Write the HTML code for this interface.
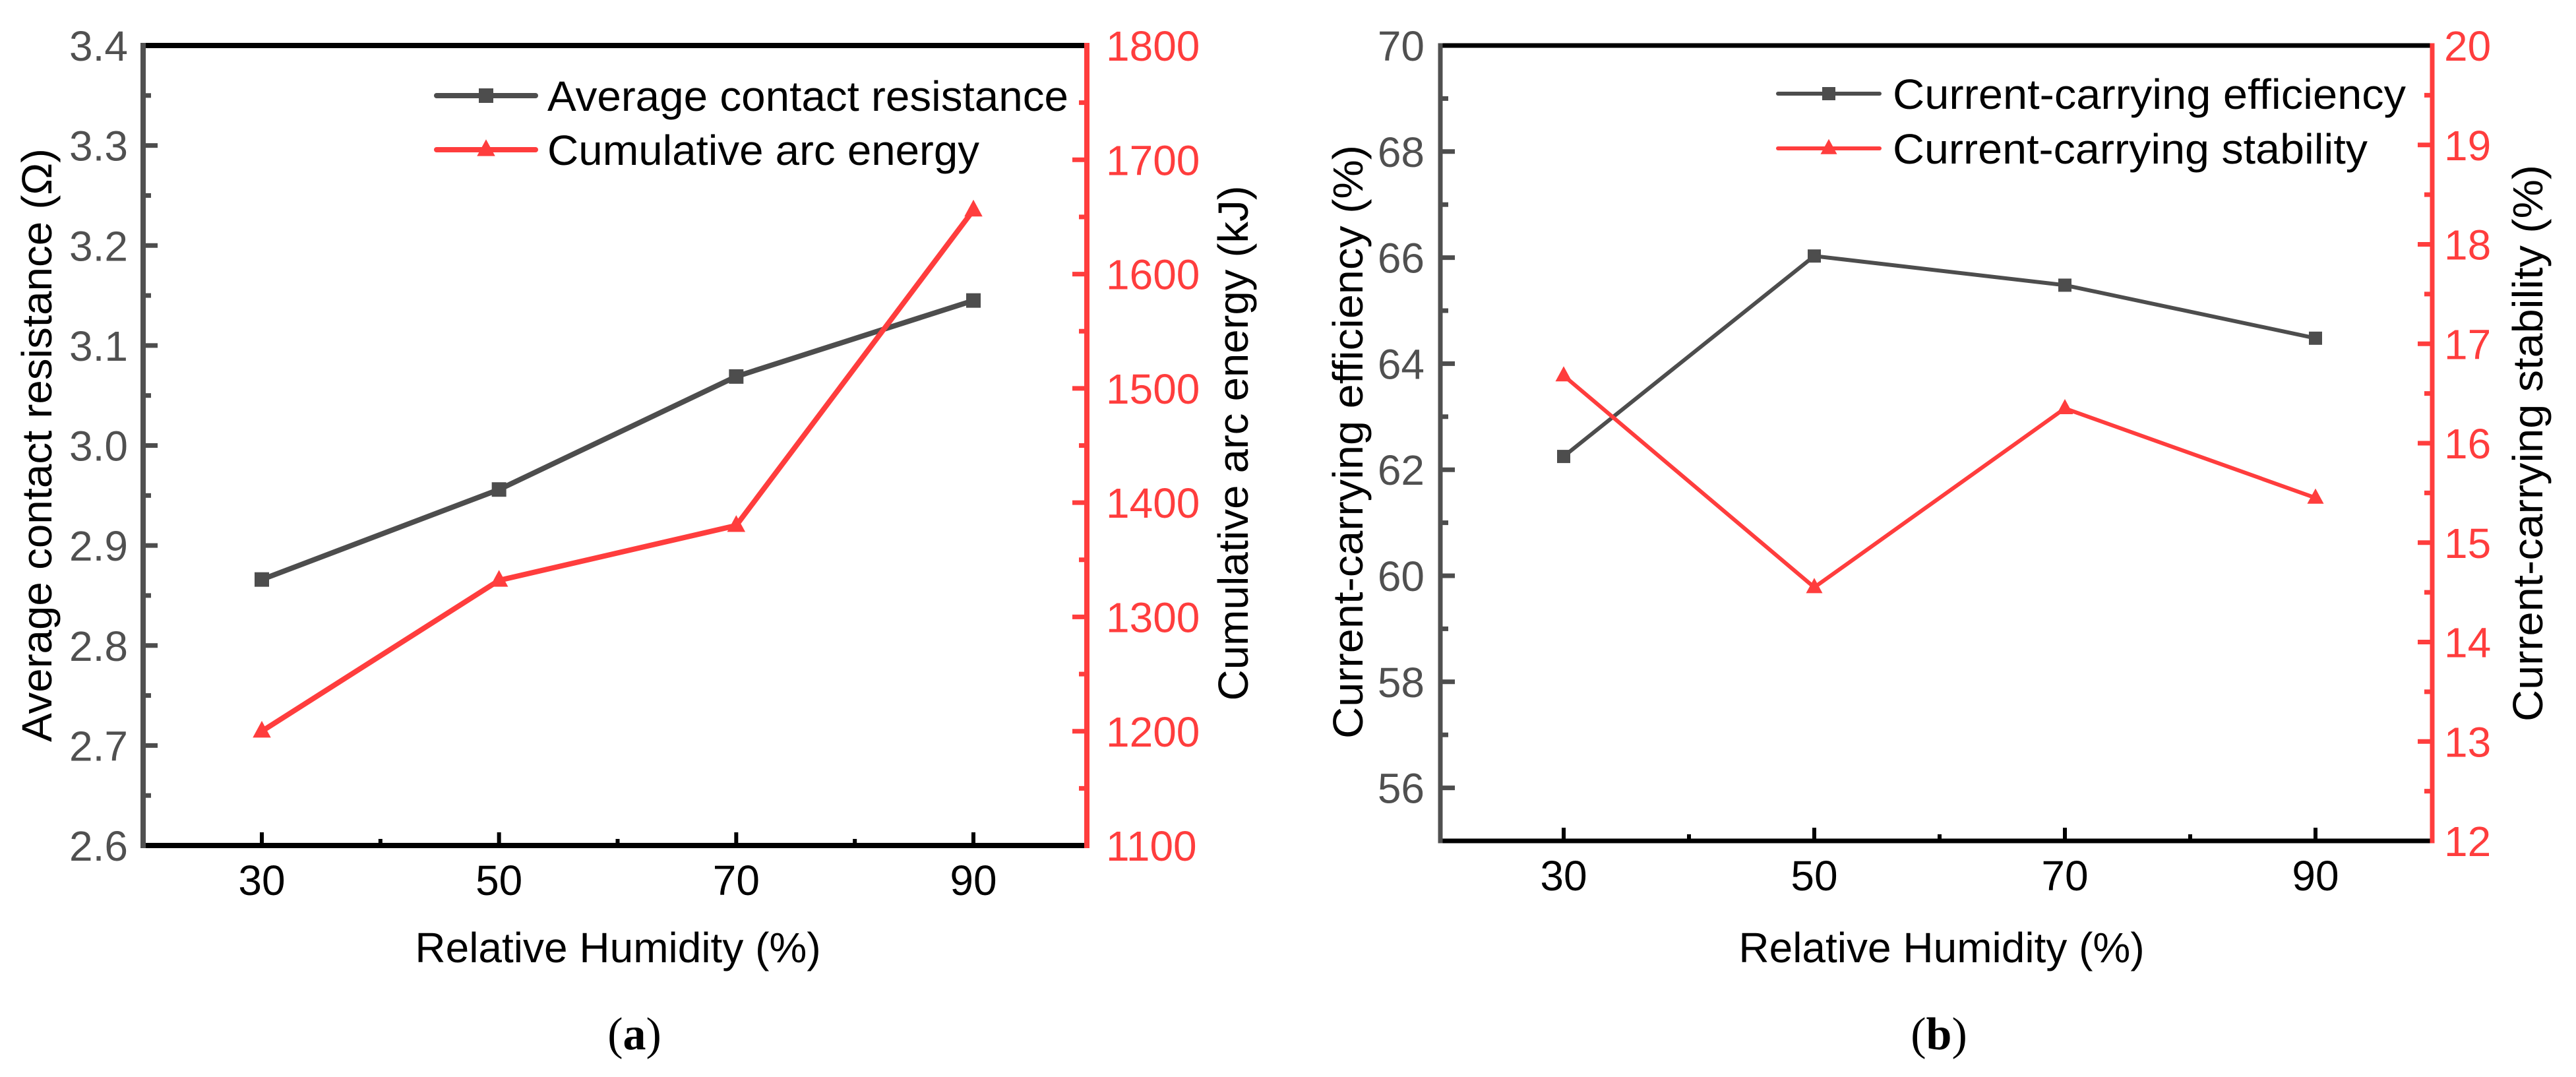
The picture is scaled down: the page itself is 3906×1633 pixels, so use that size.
<!DOCTYPE html>
<html><head><meta charset="utf-8"><style>
html,body{margin:0;padding:0;background:#fff;}
svg{display:block;font-family:"Liberation Sans",Arial,sans-serif;}
</style></head><body>
<svg id="fig" width="3906" height="1633" viewBox="0 0 3906 1633" xmlns="http://www.w3.org/2000/svg"></svg>
<script>
// ---- Panel (a) data ----
const humidityA = [30, 50, 70, 90];
const resistance = [2.866, 2.956, 3.069, 3.145];
const arcEnergy = [1200, 1332, 1380, 1656];
const resTicks = ['2.6','2.7','2.8','2.9','3.0','3.1','3.2','3.3','3.4'];
const energyTicks = ['1100','1200','1300','1400','1500','1600','1700','1800'];
// ---- Panel (b) data ----
const humidityB = [30, 50, 70, 90];
const efficiency = [62.25, 66.03, 65.48, 64.48];
const stability = [16.68, 14.55, 16.35, 15.45];
const effTicks = ['56','58','60','62','64','66','68','70'];
const stabTicks = ['12','13','14','15','16','17','18','19','20'];
const xTicks = ['30','50','70','90'];

const NS = 'http://www.w3.org/2000/svg';
const svg = document.getElementById('fig');
const GREY = '#4d4d4d', RED = '#ff3d3d';
function mk(tag, attrs, parent, text) {
  const e = document.createElementNS(NS, tag);
  for (const k in attrs) e.setAttribute(k, attrs[k]);
  if (text !== undefined) e.textContent = text;
  (parent || svg).appendChild(e);
  return e;
}

function panel(cfg) {
  const g = mk('g', {});
  
  
  const L = cfg.L, R = cfg.R, T = cfg.T, B = cfg.B;
  const xs = v => cfg.x30 + (v - 30) * (cfg.x90 - cfg.x30) / 60;
  const yl = v => B - (v - cfg.lmin) / (cfg.lmax - cfg.lmin) * (B - T);
  const yr = v => B - (v - cfg.rmin) / (cfg.rmax - cfg.rmin) * (B - T);
  const aw = cfg.aw, fs = cfg.fs;

  const nL = cfg.lTicks.length;
  for (let i = 0; i < nL; i++) {
    const v = parseFloat(cfg.lTicks[i]);
    const y = yl(v);
    const t = mk('line', {x1: L, x2: L + 22, y1: y, y2: y, stroke: GREY, 'stroke-width': 7}, g);
    
    
    const lb = mk('text', {x: cfg.lLabX, y: y + fs * 0.36, 'font-size': fs, fill: '#505050', 'text-anchor': 'end'}, g, cfg.lTicks[i]);
    
    
    if (i < nL - 1) {
      const v2 = parseFloat(cfg.lTicks[i + 1]);
      const ym = yl((v + v2) / 2);
      mk('line', {x1: L, x2: L + 12, y1: ym, y2: ym, stroke: GREY, 'stroke-width': 7}, g);
    }
  }
  if (cfg.lMinorBelow) { const ym = yl(cfg.lMinorBelow); mk('line', {x1: L, x2: L + 12, y1: ym, y2: ym, stroke: GREY, 'stroke-width': 7}, g); }
  const nR = cfg.rTicks.length;
  for (let i = 0; i < nR; i++) {
    const v = parseFloat(cfg.rTicks[i]);
    const y = yr(v);
    const t = mk('line', {x1: R, x2: R - 22, y1: y, y2: y, stroke: RED, 'stroke-width': 7}, g);
    
    
    const lb = mk('text', {x: cfg.rLabX, y: y + fs * 0.36, 'font-size': fs, fill: RED}, g, cfg.rTicks[i]);
    
    
    if (i < nR - 1) {
      const v2 = parseFloat(cfg.rTicks[i + 1]);
      const ym = yr((v + v2) / 2);
      mk('line', {x1: R, x2: R - 12, y1: ym, y2: ym, stroke: RED, 'stroke-width': 7}, g);
    }
  }
  for (let i = 0; i < xTicks.length; i++) {
    const v = parseFloat(xTicks[i]);
    const x = xs(v);
    const t = mk('line', {x1: x, x2: x, y1: B, y2: B - 20, stroke: '#000', 'stroke-width': 6}, g);
    
    
    const lb = mk('text', {x: x, y: B + 75, 'font-size': fs, fill: '#000', 'text-anchor': 'middle'}, g, xTicks[i]);
    
    
    if (i < xTicks.length - 1) {
      const xm = xs(v + 10);
      mk('line', {x1: xm, x2: xm, y1: B, y2: B - 10, stroke: '#000', 'stroke-width': 6}, g);
    }
  }
  const top = mk('line', {x1: L, x2: R, y1: T, y2: T, stroke: '#000', 'stroke-width': aw}, g);
   
  const bot = mk('line', {x1: L, x2: R, y1: B, y2: B, stroke: '#000', 'stroke-width': aw}, g);
   
  const la = mk('line', {x1: L, x2: L, y1: T - aw/2, y2: B + aw/2, stroke: '#505050', 'stroke-width': aw}, g);
   
  const ra = mk('line', {x1: R, x2: R, y1: T - aw/2, y2: B + aw/2, stroke: RED, 'stroke-width': aw}, g);
   

  const p1 = cfg.xv.map((v, i) => xs(v) + ',' + yl(cfg.s1[i])).join(' ');
  const l1 = mk('polyline', {points: p1, fill: 'none', stroke: GREY, 'stroke-width': cfg.lw, 'stroke-linejoin': 'round'}, g);
   
  const p2 = cfg.xv.map((v, i) => xs(v) + ',' + yr(cfg.s2[i])).join(' ');
  const l2 = mk('polyline', {points: p2, fill: 'none', stroke: RED, 'stroke-width': cfg.lw, 'stroke-linejoin': 'round'}, g);
   
  const ms = cfg.ms;
  cfg.xv.forEach((v, i) => {
    const x = xs(v), y = yl(cfg.s1[i]);
    const m = mk('rect', {x: x - ms/2, y: y - ms/2, width: ms, height: ms, fill: GREY}, g);
     
  });
  cfg.xv.forEach((v, i) => {
    const x = xs(v), y = yr(cfg.s2[i]);
    const h = ms * 1.1, w = ms * 1.25;
    const m = mk('polygon', {points: `${x},${y - h*0.65} ${x - w/2},${y + h*0.4} ${x + w/2},${y + h*0.4}`, fill: RED}, g);
     
  });

  const lg = mk('g', {}, g);
   
  const e1 = mk('g', {}, lg);
   
  mk('line', {x1: cfg.lgX1, x2: cfg.lgX2, y1: cfg.lgY1, y2: cfg.lgY1, stroke: GREY, 'stroke-width': cfg.lw, 'stroke-linecap': 'round'}, e1);
  const cx = (cfg.lgX1 + cfg.lgX2) / 2;
  mk('rect', {x: cx - ms/2, y: cfg.lgY1 - ms/2, width: ms, height: ms, fill: GREY}, e1);
  mk('text', {x: cfg.lgTX, y: cfg.lgY1 + fs*0.36, 'font-size': fs, fill: '#000', textLength: cfg.lgW1, lengthAdjust: 'spacingAndGlyphs'}, e1, cfg.s1label);
  const e2 = mk('g', {}, lg);
   
  mk('line', {x1: cfg.lgX1, x2: cfg.lgX2, y1: cfg.lgY2, y2: cfg.lgY2, stroke: RED, 'stroke-width': cfg.lw, 'stroke-linecap': 'round'}, e2);
  const h = ms * 1.1, w = ms * 1.25, y2 = cfg.lgY2;
  mk('polygon', {points: `${cx},${y2 - h*0.65} ${cx - w/2},${y2 + h*0.4} ${cx + w/2},${y2 + h*0.4}`, fill: RED}, e2);
  mk('text', {x: cfg.lgTX, y: cfg.lgY2 + fs*0.36, 'font-size': fs, fill: '#000', textLength: cfg.lgW2, lengthAdjust: 'spacingAndGlyphs'}, e2, cfg.s2label);

  const xt = mk('text', {x: cfg.xtX, y: 1459, 'font-size': fs, fill: '#000', 'text-anchor': 'middle'}, g, 'Relative Humidity (%)');
   
  const yt = mk('text', {x: 0, y: 0, 'font-size': fs, fill: '#000', 'text-anchor': 'middle', textLength: cfg.ylLen, lengthAdjust: 'spacingAndGlyphs', transform: `translate(${cfg.ylX},${cfg.ylY}) rotate(-90)`}, g, cfg.ylTitle);
   
  const yt2 = mk('text', {x: 0, y: 0, 'font-size': fs, fill: '#000', 'text-anchor': 'middle', textLength: cfg.yrLen, lengthAdjust: 'spacingAndGlyphs', transform: `translate(${cfg.yrX},${cfg.yrY}) rotate(-90)`}, g, cfg.yrTitle);
   
  const cap = mk('text', {x: cfg.capX, y: 1591, 'font-size': 70, fill: '#000', 'text-anchor': 'middle', 'font-family': '"Liberation Serif", serif'}, g);
   
  mk('tspan', {}, cap, '(');
  mk('tspan', {'font-weight': 'bold'}, cap, cfg.cap);
  mk('tspan', {}, cap, ')');
}

panel({name: 'panel-a', L: 217, R: 1648, T: 69, B: 1282, aw: 8, fs: 64, lw: 8, ms: 22,
  x30: 397, x90: 1476, lmin: 2.6, lmax: 3.4, rmin: 1100, rmax: 1800,
  lTicks: resTicks, rTicks: energyTicks, lLabX: 194, rLabX: 1677,
  xv: humidityA, s1: resistance, s2: arcEnergy, s1name: 'resistance', s2name: 'arc-energy',
  s1label: 'Average contact resistance', s2label: 'Cumulative arc energy', lgW1: 790, lgW2: 655,
  lgX1: 662, lgX2: 812, lgY1: 145, lgY2: 227, lgTX: 830,
  xtX: 937, ylTitle: 'Average contact resistance (Ω)', ylX: 78, ylY: 675, ylLen: 900,
  yrTitle: 'Cumulative arc energy (kJ)', yrX: 1892, yrY: 672, yrLen: 781, capX: 962, cap: 'a'});

panel({name: 'panel-b', L: 2184, R: 3688, T: 69, B: 1275, aw: 7, fs: 64, lw: 6, ms: 20,
  x30: 2371, x90: 3511, lmin: 55, lmax: 70, rmin: 12, rmax: 20,
  lTicks: effTicks, rTicks: stabTicks, lLabX: 2160, rLabX: 3706, lMinorBelow: 55,
  xv: humidityB, s1: efficiency, s2: stability, s1name: 'efficiency', s2name: 'stability',
  s1label: 'Current-carrying efficiency', s2label: 'Current-carrying stability', lgW1: 778, lgW2: 720,
  lgX1: 2696, lgX2: 2850, lgY1: 142, lgY2: 225, lgTX: 2870,
  xtX: 2944, ylTitle: 'Current-carrying efficiency (%)', ylX: 2066, ylY: 670, ylLen: 900,
  yrTitle: 'Current-carrying stability (%)', yrX: 3855, yrY: 672, yrLen: 844, capX: 2940, cap: 'b'});
</script>
</body></html>
